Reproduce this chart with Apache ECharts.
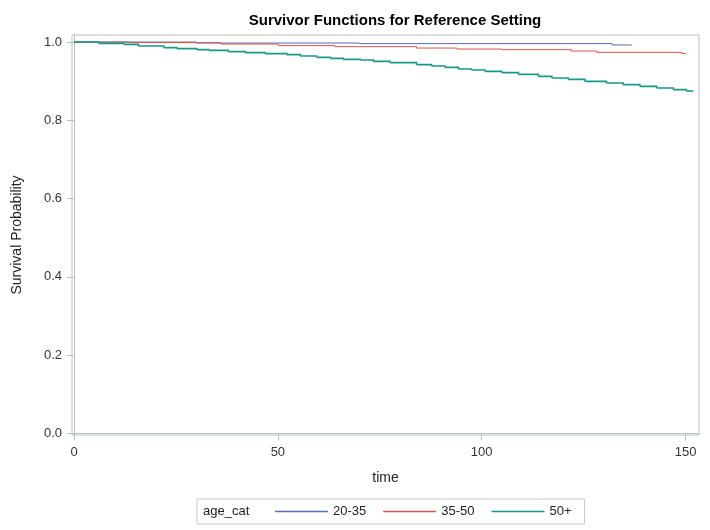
<!DOCTYPE html>
<html>
<head>
<meta charset="utf-8">
<script src="https://cdn.jsdelivr.net/npm/echarts@6/dist/echarts.min.js"></script>
<style>
html,body{margin:0;padding:0;background:#fff;}
#chart{width:710px;height:530px;}
</style>
</head>
<body>
<div id="chart"></div>
<script>
// ---- data ----
const seriesNames = ['20-35', '35-50', '50+'];

const time2035 = [0, 30, 70, 132, 136.8];
const surv2035 = [1.0, 0.9975, 0.996, 0.9925, 0.9925];

const time3550 = [0, 14, 36, 50.1, 64, 84, 93.9, 104.9, 122, 128.2, 149, 150.1];
const surv3550 = [1.0, 0.9985, 0.9949, 0.9908, 0.9882, 0.9847, 0.9821, 0.9806, 0.977, 0.9737, 0.9704, 0.9704];

const time50 = [0, 6, 12.2, 15.8, 22, 25.2, 30.1, 33, 37.8, 42, 46.9, 52.2, 55.5, 59.5, 62.8, 66, 70.2, 73.4,
  77.5, 84, 87.7, 91, 94.3, 97.5, 100.8, 104.9, 109, 113.9, 117.2, 121.2, 125.3, 130.6, 134.7, 138.8, 142.9, 147, 150.2, 151.9];
const surv50 = [1.0, 0.9967, 0.9941, 0.9898, 0.9857, 0.9831, 0.9806, 0.9788, 0.9755, 0.9729, 0.9704, 0.9678, 0.9642, 0.9609, 0.9583, 0.9558, 0.954, 0.9507,
  0.9474, 0.9422, 0.9387, 0.9353, 0.931, 0.9284, 0.9251, 0.9218, 0.9175, 0.9123, 0.908, 0.9047, 0.8996, 0.8952, 0.8911, 0.8868, 0.8824, 0.8784, 0.8748, 0.8748];

const xTicks = [0, 50, 100, 150];
const yTicks = [0, 0.2, 0.4, 0.6, 0.8, 1.0];

// each step: [t_i, s_i, t_{i+1}, s_{i+1}]
const steps = (t, s) => t.slice(0, -1).map((v, i) => [v, s[i], t[i + 1], s[i + 1]]);

const colors = ['#5b6bb5', '#d9534f', '#17998a'];
const widths = [1, 1, 1.6];
const datasets = [steps(time2035, surv2035), steps(time3550, surv3550), steps(time50, surv50)];

const font = 'Liberation Sans, Arial, sans-serif';
const frameColor = '#b9c0c4';

function makeRender(color, width) {
  return function (params, api) {
    const a = api.coord([api.value(0), api.value(1)]);
    const b = api.coord([api.value(2), api.value(1)]);
    const c = api.coord([api.value(2), api.value(3)]);
    return {
      type: 'polyline',
      shape: {points: [a, b, c]},
      style: {stroke: color, lineWidth: width, fill: null, lineJoin: 'miter'},
      silent: true
    };
  };
}

const chart = echarts.init(document.getElementById('chart'), null, {renderer: 'canvas'});
chart.setOption({
  animation: false,
  title: {
    text: 'Survivor Functions for Reference Setting',
    left: 390, top: 8, textAlign: 'center',
    textStyle: {fontFamily: font, fontSize: 15, fontWeight: 'bold', color: '#000'}
  },
  grid: {
    left: 72, right: 11, top: 35, bottom: 95,
    show: true, borderColor: frameColor, borderWidth: 1, backgroundColor: '#fff'
  },
  xAxis: {
    type: 'value', min: -0.5, max: 153.3,
    name: 'time', nameLocation: 'middle', nameGap: 36,
    nameTextStyle: {fontFamily: font, fontSize: 14, color: '#222'},
    axisLine: {show: true, lineStyle: {color: frameColor}},
    axisTick: {show: true, length: 7, lineStyle: {color: frameColor}, customValues: xTicks},
    axisLabel: {fontFamily: font, fontSize: 13, color: '#333', margin: 11, customValues: xTicks},
    splitLine: {show: false}
  },
  yAxis: {
    type: 'value', min: -0.004, max: 1.018,
    name: 'Survival Probability', nameLocation: 'middle', nameGap: 48,
    nameTextStyle: {fontFamily: font, fontSize: 14, color: '#222'},
    axisLine: {show: true, lineStyle: {color: frameColor}},
    axisTick: {show: true, length: 7, lineStyle: {color: frameColor}, customValues: yTicks},
    axisLabel: {fontFamily: font, fontSize: 13, color: '#333', margin: 10, customValues: yTicks,
      formatter: v => v.toFixed(1)},
    splitLine: {show: false}
  },
  legend: {
    data: seriesNames,
    left: 197, top: 499,
    padding: [6, 13, 6, 78],
    borderColor: '#c8c8c8', borderWidth: 1,
    icon: 'rect', itemWidth: 53, itemHeight: 1.5, itemGap: 17,
    textStyle: {fontFamily: font, fontSize: 13, color: '#222'}
  },
  graphic: [{
    type: 'text', left: 203, top: 505,
    style: {text: 'age_cat', fontFamily: font, fontSize: 13, fill: '#222'}
  }],
  series: seriesNames.map((n, i) => ({
    name: n, type: 'custom',
    renderItem: makeRender(colors[i], widths[i]),
    encode: {x: [0, 2], y: [1, 3]},
    data: datasets[i],
    itemStyle: {color: colors[i]},
    clip: true,
    z: 2 + i
  }))
});
</script>
</body>
</html>
